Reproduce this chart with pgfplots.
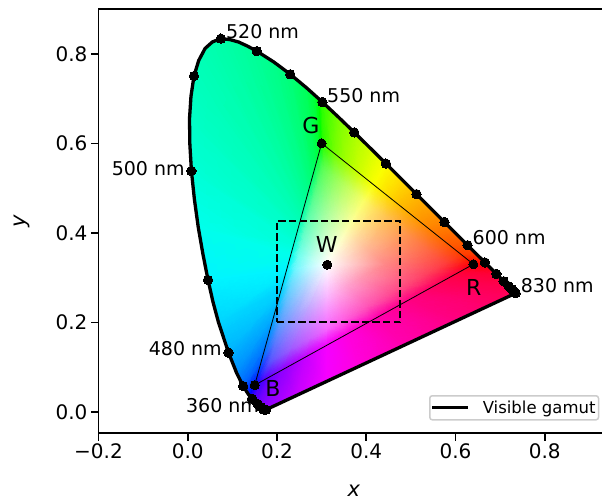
\documentclass[border=0pt]{standalone}
\usepackage{pgfplots}
\usepackage{pgfplotstable}
\usepackage{fontspec}
\setmainfont{DejaVu Sans}
\pgfplotsset{compat=1.18}
\usepgfplotslibrary{patchplots}
\pgfplotstableread{
x y c
.3127 .329 rgb255=255,255,255
.2729 .2353 rgb255=198,170,255
.2331 .1416 rgb255=160,90,255
.2131 .0947 rgb255=143,0,255
.1750 .0050 rgb255=143,0,255
.3127 .329 rgb255=255,255,255
.2677 .2324 rgb255=191,169,255
.2226 .1358 rgb255=147,89,255
.2001 .0876 rgb255=127,0,255
.1644 .0109 rgb255=127,0,255
.3127 .329 rgb255=255,255,255
.2630 .2299 rgb255=185,168,255
.2133 .1308 rgb255=135,88,255
.1884 .0812 rgb255=112,0,255
.1566 .0177 rgb255=112,0,255
.3127 .329 rgb255=255,255,255
.2541 .2250 rgb255=173,166,255
.1954 .1209 rgb255=108,86,255
.1661 .0689 rgb255=71,0,255
.1440 .0297 rgb255=71,0,255
.3127 .329 rgb255=255,255,255
.2476 .2214 rgb255=164,164,255
.1825 .1138 rgb255=85,85,255
.1500 .0600 rgb255=0,0,255
.1372 .0384 rgb255=0,0,255
.3127 .329 rgb255=255,255,255
.2541 .2447 rgb255=170,182,255
.1955 .1605 rgb255=89,126,255
.1662 .1184 rgb255=0,98,255
.1241 .0578 rgb255=0,98,255
.3127 .329 rgb255=255,255,255
.2601 .2663 rgb255=175,200,255
.2075 .2035 rgb255=94,159,255
.1812 .1722 rgb255=0,140,255
.1096 .0868 rgb255=0,140,255
.3127 .329 rgb255=255,255,255
.2660 .2876 rgb255=181,218,255
.2194 .2462 rgb255=99,190,255
.1960 .2255 rgb255=0,179,255
.0913 .1327 rgb255=0,179,255
.3127 .329 rgb255=255,255,255
.2715 .3073 rgb255=186,235,255
.2303 .2857 rgb255=105,219,255
.2097 .2748 rgb255=0,213,255
.0687 .2007 rgb255=0,213,255
.3127 .329 rgb255=255,255,255
.2763 .3244 rgb255=193,251,255
.2399 .3197 rgb255=111,247,255
.2217 .3174 rgb255=0,245,255
.0454 .2950 rgb255=0,245,255
.3127 .329 rgb255=255,255,255
.2801 .3384 rgb255=191,255,246
.2475 .3479 rgb255=110,255,240
.2313 .3526 rgb255=0,255,235
.0235 .4127 rgb255=0,255,235
.3127 .329 rgb255=255,255,255
.2832 .3493 rgb255=187,255,236
.2536 .3696 rgb255=106,255,222
.2388 .3798 rgb255=0,255,214
.0082 .5384 rgb255=0,255,214
.3127 .329 rgb255=255,255,255
.2855 .3577 rgb255=184,255,229
.2583 .3864 rgb255=102,255,208
.2446 .4008 rgb255=0,255,199
.0039 .6548 rgb255=0,255,199
.3127 .329 rgb255=255,255,255
.2874 .3646 rgb255=181,255,223
.2621 .4003 rgb255=101,255,198
.2495 .4181 rgb255=0,255,187
.0139 .7502 rgb255=0,255,187
.3127 .329 rgb255=255,255,255
.2891 .3707 rgb255=180,255,218
.2654 .4124 rgb255=98,255,189
.2536 .4332 rgb255=0,255,177
.0389 .8120 rgb255=0,255,177
.3127 .329 rgb255=255,255,255
.2906 .3759 rgb255=179,255,213
.2684 .4228 rgb255=97,255,182
.2573 .4463 rgb255=0,255,168
.0743 .8338 rgb255=0,255,168
.3127 .329 rgb255=255,255,255
.2919 .3810 rgb255=177,255,209
.2712 .4330 rgb255=96,255,174
.2608 .4590 rgb255=0,255,159
.1142 .8262 rgb255=0,255,159
.3127 .329 rgb255=255,255,255
.2936 .3868 rgb255=176,255,204
.2744 .4446 rgb255=94,255,166
.2648 .4735 rgb255=0,255,149
.1547 .8059 rgb255=0,255,149
.3127 .329 rgb255=255,255,255
.2955 .3939 rgb255=174,255,199
.2784 .4588 rgb255=92,255,156
.2698 .4912 rgb255=0,255,137
.1929 .7816 rgb255=0,255,137
.3127 .329 rgb255=255,255,255
.2982 .4034 rgb255=171,255,191
.2836 .4778 rgb255=91,255,142
.2764 .5149 rgb255=0,255,119
.2296 .7543 rgb255=0,255,119
.3127 .329 rgb255=255,255,255
.3022 .4178 rgb255=168,255,179
.2916 .5065 rgb255=88,255,120
.2864 .5509 rgb255=0,255,89
.2658 .7243 rgb255=0,255,89
.3127 .329 rgb255=255,255,255
.3054 .4295 rgb255=166,255,170
.2982 .5300 rgb255=85,255,99
.2945 .5803 rgb255=0,255,54
.2854 .7067 rgb255=0,255,54
.3127 .329 rgb255=255,255,255
.3076 .4374 rgb255=164,255,164
.3025 .5458 rgb255=85,255,85
.3000 .6000 rgb255=0,255,0
.2954 .6976 rgb255=0,255,0
.3127 .329 rgb255=255,255,255
.3094 .4360 rgb255=167,255,164
.3062 .5429 rgb255=94,255,85
.3045 .5964 rgb255=44,255,0
.3016 .6923 rgb255=44,255,0
.3127 .329 rgb255=255,255,255
.3200 .4275 rgb255=189,255,168
.3274 .5261 rgb255=140,255,88
.3311 .5753 rgb255=119,255,0
.3373 .6589 rgb255=119,255,0
.3127 .329 rgb255=255,255,255
.3310 .4188 rgb255=209,255,173
.3494 .5086 rgb255=179,255,92
.3586 .5535 rgb255=167,255,0
.3731 .6245 rgb255=167,255,0
.3127 .329 rgb255=255,255,255
.3425 .4098 rgb255=231,255,177
.3722 .4905 rgb255=214,255,97
.3870 .5309 rgb255=209,255,0
.4087 .5896 rgb255=209,255,0
.3127 .329 rgb255=255,255,255
.3542 .4004 rgb255=252,255,181
.3958 .4717 rgb255=251,255,101
.4166 .5074 rgb255=250,255,0
.4441 .5547 rgb255=250,255,0
.3127 .329 rgb255=255,255,255
.3664 .3908 rgb255=255,235,173
.4200 .4525 rgb255=255,223,92
.4468 .4834 rgb255=255,220,0
.4788 .5202 rgb255=255,220,0
.3127 .329 rgb255=255,255,255
.3786 .3810 rgb255=255,215,166
.4446 .4330 rgb255=255,194,85
.4775 .4590 rgb255=255,186,0
.5125 .4866 rgb255=255,186,0
.3127 .329 rgb255=255,255,255
.4029 .3617 rgb255=255,182,152
.4931 .3944 rgb255=255,145,75
.5382 .4108 rgb255=255,133,0
.5752 .4242 rgb255=255,133,0
.3127 .329 rgb255=255,255,255
.4247 .3445 rgb255=255,156,142
.5366 .3600 rgb255=255,105,69
.5926 .3677 rgb255=255,84,0
.6270 .3725 rgb255=255,84,0
.3127 .329 rgb255=255,255,255
.4339 .3371 rgb255=255,145,138
.5552 .3452 rgb255=255,86,65
.6159 .3492 rgb255=255,57,0
.6482 .3514 rgb255=255,57,0
.3127 .329 rgb255=255,255,255
.4436 .3294 rgb255=255,135,135
.5745 .3298 rgb255=255,63,63
.6400 .3300 rgb255=255,0,0
.6695 .3303 rgb255=255,0,0
.3127 .329 rgb255=255,255,255
.4312 .3225 rgb255=255,138,144
.5497 .3160 rgb255=255,65,84
.6089 .3128 rgb255=255,0,53
.6915 .3083 rgb255=255,0,53
.3127 .329 rgb255=255,255,255
.4199 .3163 rgb255=255,140,153
.5271 .3036 rgb255=255,66,100
.5807 .2973 rgb255=255,0,77
.7190 .2809 rgb255=255,0,77
.3127 .329 rgb255=255,255,255
.4150 .3136 rgb255=255,143,157
.5172 .2981 rgb255=255,69,107
.5684 .2904 rgb255=255,0,85
.7347 .2653 rgb255=255,0,85
.3127 .329 rgb255=255,255,255
.3852 .2971 rgb255=255,152,182
.4576 .2653 rgb255=255,75,144
.4938 .2494 rgb255=255,0,131
.6000 .2027 rgb255=255,0,131
.3127 .329 rgb255=255,255,255
.3565 .2814 rgb255=255,162,209
.4002 .2337 rgb255=255,84,184
.4221 .2099 rgb255=255,0,176
.4800 .1469 rgb255=255,0,176
.3127 .329 rgb255=255,255,255
.3309 .2673 rgb255=255,175,237
.3490 .2055 rgb255=255,94,226
.3581 .1746 rgb255=255,0,222
.3800 .1003 rgb255=255,0,222
.3127 .329 rgb255=255,255,255
.3120 .2568 rgb255=250,181,255
.3112 .1847 rgb255=246,101,255
.3108 .1486 rgb255=245,0,255
.3100 .0678 rgb255=245,0,255
.3127 .329 rgb255=255,255,255
.2921 .2459 rgb255=223,176,255
.2716 .1629 rgb255=203,94,255
.2613 .1213 rgb255=195,0,255
.2400 .0352 rgb255=195,0,255
.3127 .329 rgb255=255,255,255
.2729 .2353 rgb255=198,170,255
.2331 .1416 rgb255=160,90,255
.2131 .0947 rgb255=143,0,255
.1750 .0050 rgb255=143,0,255
}\gamutmesh
\pgfplotstableread{
x y
.1750 .0050
.1741 .0050
.1733 .0048
.1726 .0048
.1714 .0051
.1689 .0069
.1644 .0109
.1611 .0138
.1566 .0177
.1510 .0227
.1440 .0297
.1355 .0399
.1241 .0578
.1096 .0868
.0913 .1327
.0687 .2007
.0566 .2455
.0454 .2950
.0340 .3525
.0235 .4127
.0148 .4755
.0082 .5384
.0047 .5975
.0039 .6548
.0072 .7050
.0139 .7502
.0245 .7850
.0389 .8120
.0552 .8265
.0743 .8338
.0940 .8318
.1142 .8262
.1345 .8168
.1547 .8059
.1929 .7816
.2296 .7543
.2658 .7243
.3016 .6923
.3373 .6589
.3731 .6245
.4087 .5896
.4441 .5547
.4788 .5202
.5125 .4866
.5448 .4544
.5752 .4242
.6029 .3965
.6270 .3725
.6482 .3514
.6658 .3340
.6801 .3197
.6915 .3083
.7006 .2993
.7079 .2920
.7140 .2859
.7190 .2809
.7260 .2740
.7300 .2700
.7320 .2680
.7347 .2653
.1750 .0050
}\locus
\pgfplotstableread{
x y
.1750 .0050
.1741 .0050
.1733 .0048
.1726 .0048
.1714 .0051
.1689 .0069
.1644 .0109
.1566 .0177
.1440 .0297
.1241 .0578
.0913 .1327
.0454 .2950
.0082 .5384
.0139 .7502
.0743 .8338
.1547 .8059
.2296 .7543
.3016 .6923
.3731 .6245
.4441 .5547
.5125 .4866
.5752 .4242
.6270 .3725
.6658 .3340
.6915 .3083
.7079 .2920
.7190 .2809
.7260 .2740
.7300 .2700
.7320 .2680
.7347 .2653
}\locusdots
\begin{document}
\begin{tikzpicture}
\path[use as bounding box] (0,0) rectangle (602pt,501pt);
\begin{axis}[
  at={(98.5pt,68pt)}, anchor=south west,
  scale only axis, width=511pt, height=424pt,
  xmin=-0.2, xmax=0.945, ymin=-0.0469, ymax=0.9,
  xtick={-0.2,0,0.2,0.4,0.6,0.8},
  xticklabels={−0.2,0.0,0.2,0.4,0.6,0.8},
  ytick={0,0.2,0.4,0.6,0.8},
  yticklabels={0.0,0.2,0.4,0.6,0.8},
  tick align=outside, tick pos=left,
  major tick length=7.5pt,
  tick style={line width=1.6pt,black},
  axis line style={line width=1.6pt},
  ticklabel style={font=\fontsize{20}{24}\selectfont},
  xlabel={\textit{x}}, ylabel={\textit{y}},
  label style={font=\fontsize{21}{25}\selectfont},
  xlabel style={at={(axis description cs:0.5,0)},anchor=center,yshift=-58pt},
  ylabel style={at={(axis description cs:0,0.5)},anchor=center,rotate=0,yshift=76.5pt},
  clip=false,
  legend style={at={(rel axis cs:0.6468,0.0896)},anchor=north west,
    draw=black!20,line width=1.5pt,rounded corners=2.5pt,
    font=\fontsize{16.5}{20}\selectfont,fill=white,
    inner xsep=1pt,inner ysep=3pt},
  legend cell align=left,
]
\addplot[surf,forget plot,shader=interp,mesh/color input=explicit,mesh/rows=43,mesh/cols=5]
  table[x=x,y=y,meta=c]{\gamutmesh};
\addplot[black,line width=3.3pt,line join=round,
  legend image code/.code={\draw[black,line width=3pt] (0pt,0pt)--(36pt,0pt);}]
  table[x=x,y=y]{\locus};
\addlegendentry{\hspace{11pt}Visible gamut}
\addplot[forget plot,only marks,mark=*,mark size=4.7pt,mark options={fill=black,draw=black,line width=0pt}]
  table[x=x,y=y]{\locusdots};
\addplot[forget plot,black,line width=.8pt] coordinates {(.64,.33) (.30,.60) (.15,.06) (.64,.33)};
\addplot[forget plot,only marks,mark=*,mark size=4.5pt,mark options={fill=black,draw=black,line width=0pt}]
  coordinates {(.64,.33) (.30,.60) (.15,.06) (.3127,.329)};
\addplot[forget plot,black,line width=2.1pt,dash pattern=on 7.4pt off 3.2pt]
  coordinates {(.2,.2) (.476,.2) (.476,.427) (.2,.427) (.2,.2)};
\begin{scope}[every node/.style={font=\fontsize{19}{23}\selectfont,inner sep=0pt}]
\node[anchor=west] at (axis cs:.0855,.849) {520 nm};
\node[anchor=west] at (axis cs:.312,.706) {550 nm};
\node[anchor=east] at (axis cs:-.0065,.543) {500 nm};
\node[anchor=east] at (axis cs:.0765,.141) {480 nm};
\node[anchor=east] at (axis cs:.160,.0134) {360 nm};
\node[anchor=west] at (axis cs:.638,.389) {600 nm};
\node[anchor=west] at (axis cs:.746,.2816) {830 nm};
\end{scope}
\begin{scope}[every node/.style={font=\fontsize{22}{26}\selectfont,inner sep=0pt}]
\node at (axis cs:.2758,.639) {G};
\node at (axis cs:.3117,.375) {W};
\node at (axis cs:.641,.279) {R};
\node at (axis cs:.1906,.0536) {B};
\end{scope}
\end{axis}
\end{tikzpicture}
\end{document}
